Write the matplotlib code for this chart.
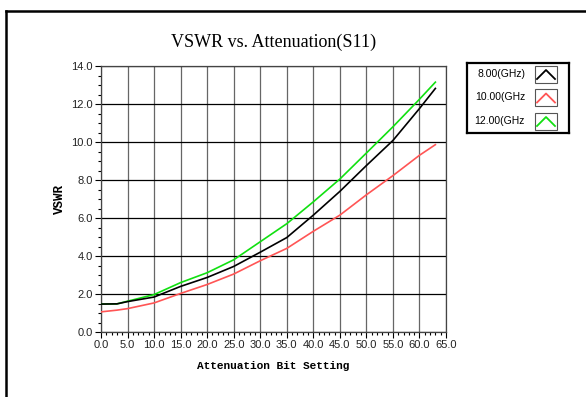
import matplotlib
matplotlib.use("Agg")
import matplotlib.pyplot as plt
from matplotlib.lines import Line2D
from matplotlib.patches import Rectangle
from matplotlib.ticker import MultipleLocator

# attenuation setting vs VSWR
att = [0, 3, 5, 10, 15, 20, 25, 30, 35, 40, 45, 50, 55, 60, 63]
vswr_8 = [1.47, 1.48, 1.60, 1.84, 2.40, 2.87, 3.45, 4.20, 4.97, 6.15, 7.40, 8.76, 10.08, 11.76, 12.82]
vswr_10 = [1.06, 1.15, 1.23, 1.53, 2.03, 2.50, 3.05, 3.75, 4.40, 5.30, 6.15, 7.22, 8.23, 9.30, 9.86]
vswr_12 = [1.47, 1.48, 1.62, 1.97, 2.60, 3.12, 3.80, 4.75, 5.70, 6.85, 8.05, 9.42, 10.80, 12.25, 13.15]
legend_labels = ["8.00(GHz)", "10.00(GHz", "12.00(GHz"]
colors = ["black", "#ff5555", "#11e011"]

narrow = ["Liberation Sans Narrow", "Liberation Sans"]
W, H = 586, 397
fig = plt.figure(figsize=(W / 100, H / 100), dpi=100)
fig.patch.set_facecolor("white")

# frame round the whole panel (left and top edges visible)
fig.add_artist(Line2D([6 / W, 6 / W], [0, 1 - 11 / H], color="black", lw=1.8))
fig.add_artist(Line2D([6 / W, 1], [1 - 11 / H, 1 - 11 / H], color="black", lw=1.8))

ax = fig.add_axes([101 / W, 1 - 332 / H, 345 / W, 266 / H])
ax.plot(att, vswr_12, color=colors[2], lw=1.2, zorder=3)
ax.plot(att, vswr_10, color=colors[1], lw=1.2, zorder=3)
ax.plot(att, vswr_8, color=colors[0], lw=1.2, zorder=4)

ax.set_xlim(0, 65)
ax.set_ylim(0, 14)
ax.xaxis.set_major_locator(MultipleLocator(5))
ax.xaxis.set_minor_locator(MultipleLocator(1))
ax.yaxis.set_major_locator(MultipleLocator(2))
ax.yaxis.set_minor_locator(MultipleLocator(0.5))
ax.xaxis.set_major_formatter(lambda v, p: "%.1f" % v)
ax.yaxis.set_major_formatter(lambda v, p: "%.1f" % v)
ax.xaxis.grid(True, which="major", color="#666666", lw=0.9)
ax.yaxis.grid(True, which="major", color="black", lw=0.9)
ax.tick_params(which="major", length=4, width=0.8, labelsize=8, pad=2, labelcolor="#222222")
ax.tick_params(which="minor", length=2.5, width=0.8)
for lab in ax.get_xticklabels() + ax.get_yticklabels():
    lab.set_family(narrow)
for s in ax.spines.values():
    s.set_linewidth(0.9)
    s.set_color("#444444")

ax.set_title("VSWR vs. Attenuation(S11)", fontsize=13, family="Liberation Serif", pad=14)
ax.set_xlabel("Attenuation Bit Setting", fontsize=8, fontweight="bold", family="Liberation Mono", labelpad=8)
ax.set_ylabel("VSWR", fontsize=9, fontweight="bold", family="Liberation Mono", labelpad=4)

# legend panel drawn in pixel coordinates
lg = fig.add_axes([467 / W, 1 - 133 / H, 102 / W, 70 / H])
lg.set_xlim(467, 569)
lg.set_ylim(133, 63)
lg.set_xticks([])
lg.set_yticks([])
for s in lg.spines.values():
    s.set_linewidth(1.6)
for i, (lab, c) in enumerate(zip(legend_labels, colors)):
    yc = 74 + i * 23.5
    lg.text(525, yc, lab, ha="right", va="center", fontsize=7.5, family=narrow)
    lg.add_patch(Rectangle((535, yc - 8.5), 22, 17, fill=False, ec="#555555", lw=0.8))
    lg.plot([537, 546, 555], [yc + 5, yc - 4, yc + 5], color=c, lw=1.3)

fig.savefig("out.png", dpi=100)
